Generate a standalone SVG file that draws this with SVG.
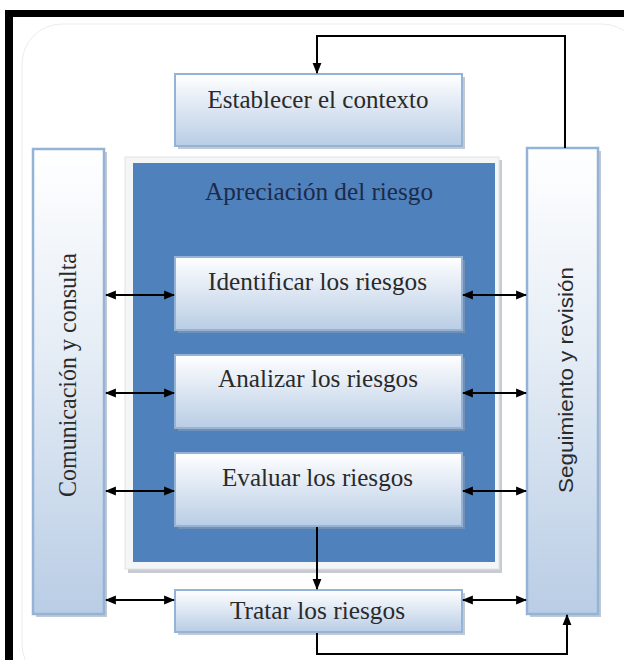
<svg xmlns="http://www.w3.org/2000/svg" width="624" height="660" viewBox="0 0 624 660">
<defs>
<linearGradient id="gBox" x1="0" y1="0" x2="0" y2="1">
<stop offset="0" stop-color="#ffffff"/>
<stop offset="0.35" stop-color="#e6edf6"/>
<stop offset="1" stop-color="#b9cde5"/>
</linearGradient>
<linearGradient id="gCol" x1="0" y1="0" x2="0" y2="1">
<stop offset="0" stop-color="#ffffff"/>
<stop offset="0.45" stop-color="#e4ecf5"/>
<stop offset="1" stop-color="#b9cde5"/>
</linearGradient>
<marker id="ahb" viewBox="0 0 10 10" refX="9" refY="5" markerWidth="11" markerHeight="11" orient="auto-start-reverse" markerUnits="userSpaceOnUse">
<path d="M0,1 L10,5 L0,9 z" fill="#000"/>
</marker>
</defs>
<style>
.lbl{font-family:'Liberation Serif','Times New Roman',serif;font-size:25px;fill:#2a2a2a;text-anchor:middle}
.sans{font-family:'Liberation Sans',Arial,sans-serif;font-size:21px;fill:#2a2a2a;text-anchor:middle}
.box{fill:url(#gBox);stroke:#95b3d7;stroke-width:2}
.col{fill:url(#gCol);stroke:#95b3d7;stroke-width:2.5}
.sh{fill:#8c9cb0;opacity:0.55}
.con{fill:none;stroke:#000;stroke-width:2}
</style>
<rect x="0" y="0" width="624" height="660" fill="#ffffff"/>
<rect x="22" y="24" width="620" height="660" rx="40" fill="none" stroke="#ececec" stroke-width="1"/>
<rect x="5" y="10" width="619" height="7" fill="#000"/>
<rect x="5" y="10" width="8" height="650" fill="#000"/>

<g id="n-apreciacion">
<rect x="128" y="160" width="374" height="413" fill="#c8ccd2"/>
<rect x="125" y="157" width="374" height="412" fill="#f4f5f7" stroke="#e0e3e8" stroke-width="1"/>
<rect x="133" y="163" width="362" height="399" fill="#4f81bd"/>
<text class="lbl" x="319" y="200" textLength="228" lengthAdjust="spacingAndGlyphs" style="fill:#1c2a48">Apreciación del riesgo</text>
</g>

<g id="n-establecer">
<rect class="sh" x="178" y="77" width="287" height="72"/>
<rect class="box" x="175" y="74" width="287" height="72"/>
<text class="lbl" x="318" y="108" textLength="221" lengthAdjust="spacingAndGlyphs">Establecer el contexto</text>
</g>

<g id="n-comunicacion">
<rect class="sh" x="36" y="152" width="71" height="465"/>
<rect class="col" x="33" y="149" width="71" height="465"/>
<text class="lbl" transform="translate(76,375) rotate(-90)" textLength="244" lengthAdjust="spacingAndGlyphs">Comunicación y consulta</text>
</g>

<g id="n-seguimiento">
<rect class="sh" x="530" y="151" width="71" height="466"/>
<rect class="col" x="527" y="148" width="71" height="466"/>
<text class="sans" transform="translate(573,380) rotate(-90)" textLength="226" lengthAdjust="spacingAndGlyphs">Seguimiento y revisión</text>
</g>

<g id="n-identificar">
<rect class="sh" x="178" y="260" width="287" height="73"/>
<rect class="box" x="175" y="257" width="287" height="73"/>
<text class="lbl" x="317.5" y="290" textLength="219" lengthAdjust="spacingAndGlyphs">Identificar los riesgos</text>
</g>

<g id="n-analizar">
<rect class="sh" x="178" y="358" width="287" height="73"/>
<rect class="box" x="175" y="355" width="287" height="73"/>
<text class="lbl" x="318" y="387" textLength="200" lengthAdjust="spacingAndGlyphs">Analizar los riesgos</text>
</g>

<g id="n-evaluar">
<rect class="sh" x="178" y="456" width="287" height="73"/>
<rect class="box" x="175" y="453" width="287" height="73"/>
<text class="lbl" x="317.5" y="486" textLength="191" lengthAdjust="spacingAndGlyphs">Evaluar los riesgos</text>
</g>

<g id="n-tratar">
<rect class="sh" x="178" y="593" width="287" height="42"/>
<rect class="box" x="175" y="590" width="287" height="42"/>
<text class="lbl" x="317.5" y="619" textLength="175" lengthAdjust="spacingAndGlyphs">Tratar los riesgos</text>
</g>

<g id="connectors">
<line class="con" x1="106" y1="295" x2="174" y2="295" marker-start="url(#ahb)" marker-end="url(#ahb)"/>
<line class="con" x1="463" y1="295" x2="526" y2="295" marker-start="url(#ahb)" marker-end="url(#ahb)"/>
<line class="con" x1="106" y1="393" x2="174" y2="393" marker-start="url(#ahb)" marker-end="url(#ahb)"/>
<line class="con" x1="463" y1="393" x2="526" y2="393" marker-start="url(#ahb)" marker-end="url(#ahb)"/>
<line class="con" x1="106" y1="491" x2="174" y2="491" marker-start="url(#ahb)" marker-end="url(#ahb)"/>
<line class="con" x1="463" y1="491" x2="526" y2="491" marker-start="url(#ahb)" marker-end="url(#ahb)"/>
<line class="con" x1="106" y1="600" x2="174" y2="600" marker-start="url(#ahb)" marker-end="url(#ahb)"/>
<line class="con" x1="463" y1="600" x2="526" y2="600" marker-start="url(#ahb)" marker-end="url(#ahb)"/>
<polyline class="con" points="565,148 565,36 317,36 317,73" marker-end="url(#ahb)"/>
<line class="con" x1="317" y1="527" x2="317" y2="589" marker-end="url(#ahb)"/>
<polyline class="con" points="317,633 317,654 567,654 567,615" marker-end="url(#ahb)"/>
</g>
</svg>
